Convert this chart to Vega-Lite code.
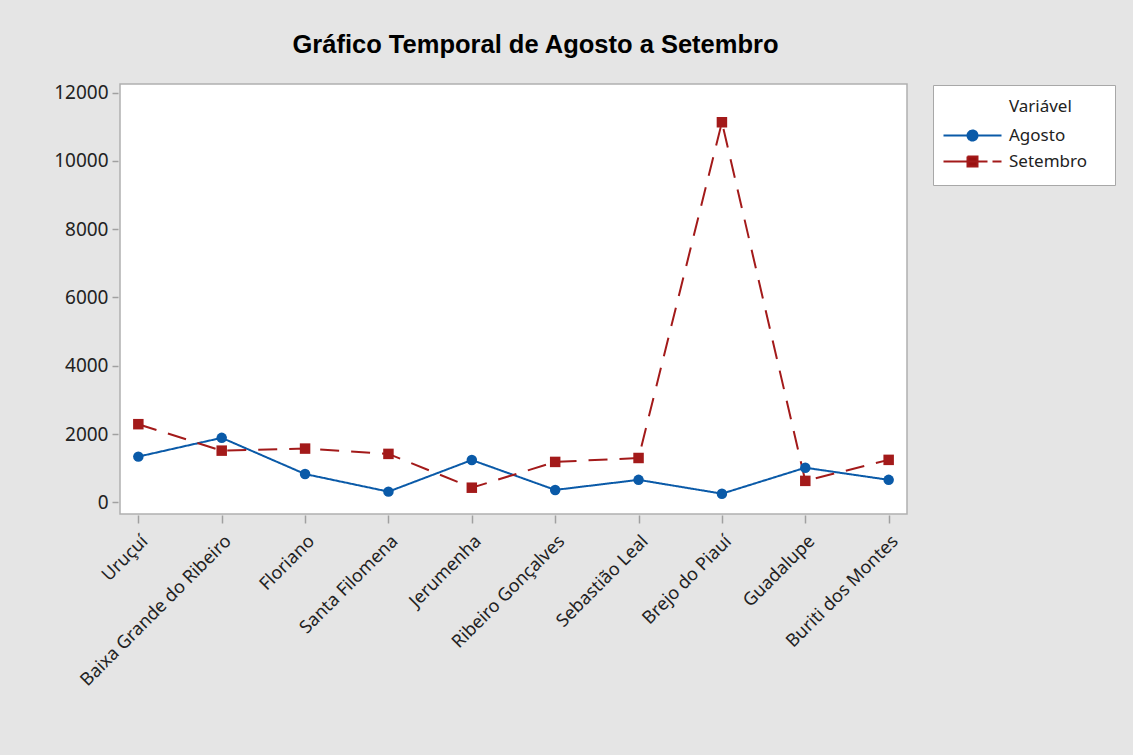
{
  "$schema": "https://vega.github.io/schema/vega-lite/v6.json",
  "width": 787,
  "height": 430,
  "autosize": "none",
  "padding": {"left": 120, "top": 84, "right": 226, "bottom": 241},
  "background": "#e5e5e5",
  "title": {
    "text": "Gráfico Temporal de Agosto a Setembro",
    "font": "Liberation Sans",
    "fontSize": 25.5,
    "fontWeight": "bold",
    "color": "#000000",
    "anchor": "middle",
    "frame": "group",
    "dx": 22,
    "offset": 25
  },
  "config": {
    "view": {"fill": "white", "stroke": "#b0b0b0", "strokeWidth": 1.5},
    "font": "Noto Sans",
    "legend": {
      "orient": "none",
      "legendX": 813,
      "legendY": 1,
      "titleFont": "Noto Sans",
      "titleFontSize": 17,
      "titleFontWeight": "normal",
      "titleColor": "#222222",
      "labelFont": "Noto Sans",
      "labelFontSize": 17,
      "labelColor": "#222222",
      "padding": 14,
      "strokeColor": "#a8a8a8",
      "fillColor": "white",
      "symbolSize": 100,
      "symbolOffset": 17,
      "symbolStrokeWidth": 2,
      "labelOffset": 28,
      "rowPadding": 7,
      "titlePadding": 11
    }
  },
  "resolve": {"scale": {"shape": "independent", "strokeDash": "independent", "fill": "independent", "stroke": "independent"}},
  "data": {
    "values": [
      {"municipio": "Uruçuí", "variavel": "Agosto", "valor": 1340},
      {"municipio": "Baixa Grande do Ribeiro", "variavel": "Agosto", "valor": 1890},
      {"municipio": "Floriano", "variavel": "Agosto", "valor": 830},
      {"municipio": "Santa Filomena", "variavel": "Agosto", "valor": 315},
      {"municipio": "Jerumenha", "variavel": "Agosto", "valor": 1240},
      {"municipio": "Ribeiro Gonçalves", "variavel": "Agosto", "valor": 365},
      {"municipio": "Sebastião Leal", "variavel": "Agosto", "valor": 660},
      {"municipio": "Brejo do Piauí", "variavel": "Agosto", "valor": 255},
      {"municipio": "Guadalupe", "variavel": "Agosto", "valor": 1015},
      {"municipio": "Buriti dos Montes", "variavel": "Agosto", "valor": 660},
      {"municipio": "Uruçuí", "variavel": "Setembro", "valor": 2290},
      {"municipio": "Baixa Grande do Ribeiro", "variavel": "Setembro", "valor": 1515},
      {"municipio": "Floriano", "variavel": "Setembro", "valor": 1575},
      {"municipio": "Santa Filomena", "variavel": "Setembro", "valor": 1420},
      {"municipio": "Jerumenha", "variavel": "Setembro", "valor": 430},
      {"municipio": "Ribeiro Gonçalves", "variavel": "Setembro", "valor": 1185},
      {"municipio": "Sebastião Leal", "variavel": "Setembro", "valor": 1300},
      {"municipio": "Brejo do Piauí", "variavel": "Setembro", "valor": 11130},
      {"municipio": "Guadalupe", "variavel": "Setembro", "valor": 630},
      {"municipio": "Buriti dos Montes", "variavel": "Setembro", "valor": 1245}
    ]
  },
  "encoding": {
    "x": {
      "field": "municipio",
      "type": "nominal",
      "sort": null,
      "scale": {"type": "point", "padding": 0.22},
      "axis": {
        "title": null,
        "labelAngle": -45,
        "labelAlign": "right",
        "labelBaseline": "top",
        "labelFont": "Noto Sans",
        "labelFontSize": 18,
        "labelColor": "#222222",
        "labelLimit": 400,
        "labelOverlap": false,
        "labelPadding": 9,
        "tickColor": "#a0a0a0",
        "tickSize": 8,
        "tickWidth": 1.5,
        "domain": false,
        "grid": false,
        "offset": 1
      }
    },
    "y": {
      "field": "valor",
      "type": "quantitative",
      "scale": {"domain": [-340, 12250], "nice": false, "zero": false},
      "axis": {
        "title": null,
        "values": [0, 2000, 4000, 6000, 8000, 10000, 12000],
        "format": "d",
        "labelFont": "Noto Sans",
        "labelFontSize": 19,
        "labelColor": "#222222",
        "labelPadding": 4,
        "tickColor": "#a0a0a0",
        "tickSize": 6,
        "tickWidth": 1.5,
        "domain": false,
        "grid": false,
        "offset": 2
      }
    }
  },
  "layer": [
    {
      "mark": {"type": "line", "strokeWidth": 2},
      "encoding": {
        "color": {
          "field": "variavel",
          "type": "nominal",
          "scale": {"domain": ["Agosto", "Setembro"], "range": ["#0a5aa8", "#a31a1a"]},
          "legend": null
        },
        "strokeDash": {
          "field": "variavel",
          "type": "nominal",
          "scale": {"domain": ["Agosto", "Setembro"], "range": [[1, 0], [19, 12]]},
          "legend": null
        }
      }
    },
    {
      "mark": {"type": "point", "filled": true, "opacity": 1, "size": 110},
      "encoding": {
        "color": {
          "field": "variavel",
          "type": "nominal",
          "scale": {"domain": ["Agosto", "Setembro"], "range": ["#0a5aa8", "#9a1010"]},
          "legend": null
        },
        "shape": {
          "field": "variavel",
          "type": "nominal",
          "scale": {"domain": ["Agosto", "Setembro"], "range": ["circle", "square"]},
          "legend": null
        }
      }
    },
    {
      "transform": [{"filter": "false"}],
      "mark": {"type": "point", "filled": true, "opacity": 1, "strokeWidth": 2},
      "encoding": {
        "fill": {
          "field": "variavel",
          "type": "nominal",
          "title": "\u200b\u00a0\u00a0\u00a0\u00a0\u00a0\u00a0\u00a0\u00a0\u00a0\u00a0\u00a0\u00a0\u00a0\u00a0Variável",
          "scale": {"domain": ["Agosto", "Setembro"], "range": ["#0a5aa8", "#9a1010"]},
          "legend": {"title": "\u200b\u00a0\u00a0\u00a0\u00a0\u00a0\u00a0\u00a0\u00a0\u00a0\u00a0\u00a0\u00a0\u00a0\u00a0Variável", "labelExpr": "datum.label + '\u00a0\u00a0\u00a0\u200b'"}
        },
        "stroke": {
          "field": "variavel",
          "type": "nominal",
          "title": "\u200b\u00a0\u00a0\u00a0\u00a0\u00a0\u00a0\u00a0\u00a0\u00a0\u00a0\u00a0\u00a0\u00a0\u00a0Variável",
          "scale": {"domain": ["Agosto", "Setembro"], "range": ["#0a5aa8", "#a31a1a"]},
          "legend": {"title": "\u200b\u00a0\u00a0\u00a0\u00a0\u00a0\u00a0\u00a0\u00a0\u00a0\u00a0\u00a0\u00a0\u00a0\u00a0Variável", "labelExpr": "datum.label + '\u00a0\u00a0\u00a0\u200b'"}
        },
        "shape": {
          "field": "variavel",
          "type": "nominal",
          "title": "\u200b\u00a0\u00a0\u00a0\u00a0\u00a0\u00a0\u00a0\u00a0\u00a0\u00a0\u00a0\u00a0\u00a0\u00a0Variável",
          "scale": {
            "domain": ["Agosto", "Setembro"],
            "range": [
              "M-5.8,0H5.8M-1,0A1,1,0,1,0,1,0A1,1,0,1,0,-1,0Z",
              "M-5.8,0H5.8M-1,-1H1V1H-1Z"
            ]
          },
          "legend": {"title": "\u200b\u00a0\u00a0\u00a0\u00a0\u00a0\u00a0\u00a0\u00a0\u00a0\u00a0\u00a0\u00a0\u00a0\u00a0Variável", "labelExpr": "datum.label + '\u00a0\u00a0\u00a0\u200b'"}
        },
        "strokeDash": {
          "field": "variavel",
          "type": "nominal",
          "title": "\u200b\u00a0\u00a0\u00a0\u00a0\u00a0\u00a0\u00a0\u00a0\u00a0\u00a0\u00a0\u00a0\u00a0\u00a0Variável",
          "scale": {"domain": ["Agosto", "Setembro"], "range": [[1, 0], [44, 5]]},
          "legend": {"title": "\u200b\u00a0\u00a0\u00a0\u00a0\u00a0\u00a0\u00a0\u00a0\u00a0\u00a0\u00a0\u00a0\u00a0\u00a0Variável", "labelExpr": "datum.label + '\u00a0\u00a0\u00a0\u200b'"}
        }
      }
    }
  ]
}
